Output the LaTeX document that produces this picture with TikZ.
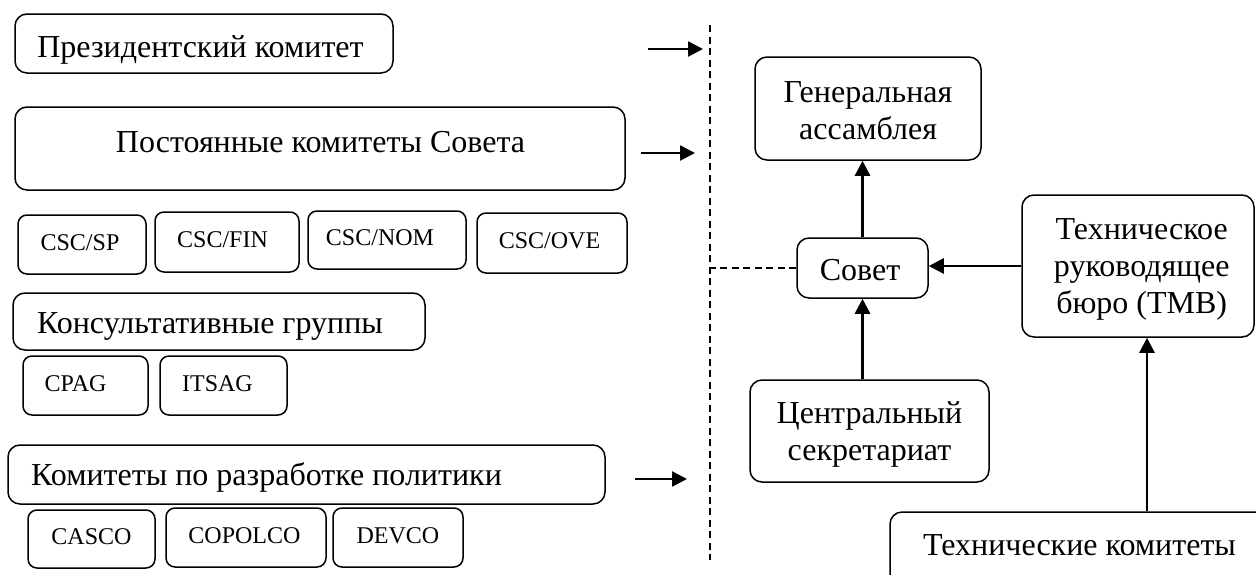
\documentclass[tikz,border=0pt]{standalone}
\usepackage{fontspec}
\setmainfont{Liberation Serif}
\usetikzlibrary{arrows.meta}
\tikzset{
  box/.style={draw, line width=1.5pt, rounded corners=12pt, inner sep=0pt},
  sbox/.style={box, rounded corners=9pt},
  big/.style={font=\fontsize{32}{37}\selectfont, inner sep=0pt, text height=22pt, text depth=7pt},
  bigml/.style={font=\fontsize{32}{37}\selectfont, inner sep=0pt, align=center},
  small/.style={font=\fontsize{24}{28}\selectfont, inner sep=0pt, text height=16pt, text depth=5pt},
  arr/.style={-{Triangle[length=15pt,width=15pt]}, line width=2.5pt},
  dline/.style={line width=1.3pt, dash pattern=on 7pt off 4.5pt},
}
\begin{document}
\begin{tikzpicture}[x=1pt,y=-1pt]
\useasboundingbox (0,0) rectangle (1256,574);
\clip (0,0) rectangle (1256,574);
% left column
\node[box, minimum width=378pt, minimum height=59pt,
  label={[big, xshift=-3.5pt, yshift=-6pt]center:Президентский комитет}] (pres) at (204,43.5) {};
\node[box, minimum width=610pt, minimum height=83pt,
  label={[big, xshift=0.5pt, yshift=4pt]center:Постоянные комитеты Совета}] (post) at (320,148.5) {};
\node[sbox, minimum width=128pt, minimum height=59pt,
  label={[small, xshift=-2pt]center:CSC/SP}] (cscsp) at (82,244.5) {};
\node[sbox, minimum width=144pt, minimum height=60pt,
  label={[small, xshift=-4.5pt]center:CSC/FIN}] (cscfin) at (227,242) {};
\node[sbox, minimum width=158pt, minimum height=58pt,
  label={[small, xshift=-7pt]center:CSC/NOM}] (cscnom) at (387,240) {};
\node[sbox, minimum width=150pt, minimum height=60pt,
  label={[small, xshift=-2.5pt]center:CSC/OVE}] (cscove) at (552,243) {};
\node[box, minimum width=412pt, minimum height=57pt,
  label={[big, xshift=-9pt, yshift=-4pt]center:Консультативные группы}] (kons) at (219,321.5) {};
\node[sbox, minimum width=125pt, minimum height=59pt,
  label={[small, xshift=-10pt]center:CPAG}] (cpag) at (85.5,385.5) {};
\node[sbox, minimum width=127pt, minimum height=59pt,
  label={[small, xshift=-6pt]center:ITSAG}] (itsag) at (223.5,385.5) {};
\node[box, minimum width=597pt, minimum height=59pt,
  label={[big, xshift=-40pt, yshift=-3pt]center:Комитеты по разработке политики}] (kom) at (306.5,474.5) {};
\node[sbox, minimum width=127pt, minimum height=58pt,
  label={[small]center:CASCO}] (casco) at (91.5,539) {};
\node[sbox, minimum width=160pt, minimum height=59pt,
  label={[small, xshift=-1.5pt]center:COPOLCO}] (copolco) at (246,537.5) {};
\node[sbox, minimum width=130pt, minimum height=59pt,
  label={[small]center:DEVCO}] (devco) at (398,537.5) {};
% arrows towards the divider
\coordinate (a1s) at (648,49);  \coordinate (a1e) at (703,49);
\coordinate (a2s) at (641,153); \coordinate (a2e) at (695,153);
\coordinate (a3s) at (635,479); \coordinate (a3e) at (687,479);
\draw[arr] (a1s) -- (a1e);
\draw[arr] (a2s) -- (a2e);
\draw[arr] (a3s) -- (a3e);
% divider
\coordinate (dtop) at (710,25);
\coordinate (dbot) at (710,560);
\draw[dline] (dtop) -- (dbot);
% right part
\node[box, minimum width=226pt, minimum height=103pt,
  label={[bigml, yshift=-2.5pt]center:Генеральная\\ассамблея}] (gen) at (868,108.5) {};
\node[box, minimum width=131pt, minimum height=60pt,
  label={[big, xshift=-2.5pt, yshift=-4.5pt]center:Совет}] (sovet) at (862.5,268) {};
\node[box, minimum width=239pt, minimum height=102pt,
  label={[bigml, yshift=-3pt]center:Центральный\\секретариат}] (central) at (869.5,431) {};
\node[box, minimum width=232pt, minimum height=142pt,
  label={[bigml, xshift=3.7pt, yshift=-3.5pt]center:Техническое\\руководящее\\бюро (TMB)}] (tmb) at (1138,266) {};
\node[box, minimum width=390pt, minimum height=88pt,
  label={[big, xshift=-5.5pt, yshift=8.5pt]center:Технические комитеты}] (tech) at (1085,556) {};
% connectors
\draw[dline] (sovet.west) -- (sovet.west -| dtop);
\draw[arr] (sovet.north) -- (sovet.north |- gen.south);
\draw[arr] (sovet.south |- central.north) -- (sovet.south);
\draw[arr] (tmb.west) -- (tmb.west -| sovet.east);
\draw[arr] ([xshift=9pt]tmb.south |- tech.north) -- ([xshift=9pt]tmb.south);
\end{tikzpicture}
\end{document}
